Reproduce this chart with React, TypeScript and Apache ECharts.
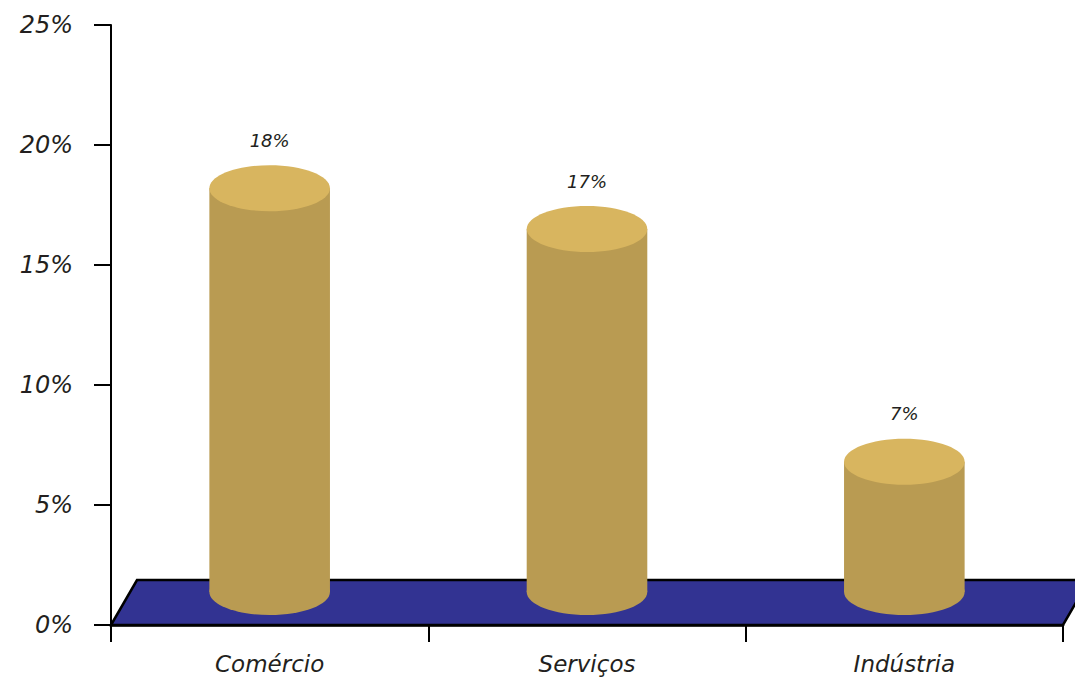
import React, { useEffect, useRef } from "react";
import * as echarts from "echarts";

const categories = ["Comércio", "Serviços", "Indústria"];
const values = [18.2, 16.5, 6.8];
const yTicks = [0, 5, 10, 15, 20, 25];

const FLOOR = "#323392";
const BODY = "#B99B52";
const TOP = "#D8B55F";
const TEXT = "#231F20";
const FONT = "'DejaVu Sans', sans-serif";

export default function App() {
  const ref = useRef<HTMLDivElement>(null);
  useEffect(() => {
    const chart = echarts.init(ref.current!, null, { renderer: "svg" });
    chart.setOption({
      animation: false,
      grid: { left: 111, right: 12, top: 25, bottom: 55 },
      xAxis: {
        type: "category",
        data: categories,
        boundaryGap: true,
        z: 5,
        axisLine: { show: true, lineStyle: { color: "#000", width: 2.5 } },
        axisTick: { show: true, interval: 0, inside: false, length: 17, lineStyle: { color: "#000", width: 2 } },
        axisLabel: {
          margin: 27,
          color: TEXT,
          fontSize: 23,
          fontStyle: "italic",
          fontFamily: FONT,
        },
        splitLine: { show: false },
      },
      yAxis: {
        type: "value",
        min: yTicks[0],
        max: yTicks[yTicks.length - 1],
        interval: 5,
        axisLine: { show: true, lineStyle: { color: "#000", width: 2 } },
        axisTick: { show: true, length: 17, lineStyle: { color: "#000", width: 2 } },
        axisLabel: {
          margin: 38,
          formatter: "{value}%",
          color: TEXT,
          fontSize: 24,
          fontStyle: "italic",
          fontFamily: FONT,
        },
        splitLine: { show: false },
      },
      series: [
        {
          type: "custom",
          z: 1,
          silent: true,
          data: [[0, 0]],
          renderItem: (params: any) => {
            const cs = params.coordSys;
            const bx = cs.x;
            const by = cs.y + cs.height;
            const w = cs.width;
            return {
              type: "polygon",
              shape: {
                points: [
                  [bx, by],
                  [bx + 26, by - 45],
                  [bx + w + 26, by - 45],
                  [bx + w, by],
                ],
              },
              style: { fill: FLOOR, stroke: "#000", lineWidth: 2.5 },
            };
          },
        },
        {
          type: "custom",
          z: 3,
          data: values.map((v, i) => [i, v]),
          renderItem: (params: any, api: any) => {
            const idx = api.value(0);
            const v = api.value(1);
            const top = api.coord([idx, v]);
            const base = api.coord([idx, 0]);
            const rx = api.size([1, 0])[0] * 0.19;
            const ry = 23;
            const bottomY = base[1] - 33;
            return {
              type: "group",
              children: [
                { type: "ellipse", shape: { cx: top[0], cy: bottomY, rx, ry }, style: { fill: BODY } },
                {
                  type: "rect",
                  shape: { x: top[0] - rx, y: top[1], width: 2 * rx, height: bottomY - top[1] },
                  style: { fill: BODY },
                },
                { type: "ellipse", shape: { cx: top[0], cy: top[1], rx, ry }, style: { fill: TOP } },
                {
                  type: "text",
                  style: {
                    text: Math.round(v) + "%",
                    x: top[0],
                    y: top[1] - 48,
                    align: "center",
                    verticalAlign: "middle",
                    fill: TEXT,
                    fontSize: 18,
                    fontStyle: "italic",
                    fontFamily: FONT,
                  },
                },
              ],
            };
          },
        },
      ],
    });
    return () => chart.dispose();
  }, []);
  return (
    <div
      ref={ref}
      style={{ position: "fixed", left: 0, top: 0, width: 1075, height: 680, background: "#fff" }}
    />
  );
}
